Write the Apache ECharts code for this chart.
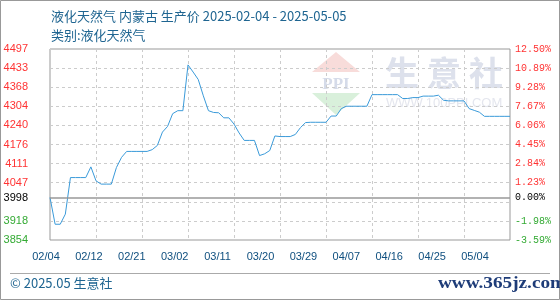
<!DOCTYPE html>
<html>
<head>
<meta charset="utf-8">
<script src="https://cdn.jsdelivr.net/npm/echarts@6/dist/echarts.min.js"></script>
<style>
  html, body { margin: 0; padding: 0; background: #fff; }
  #chart { width: 560px; height: 300px; }
</style>
</head>
<body>
<div id="chart"></div>
<script>
// 液化天然气 内蒙古 生产价（日度）
var startDate = '2025-02-04';
var prices = [
    3998, 3908, 3908, 3942, 4065, 4065, 4065, 4065, 4101, 4054,
    4043, 4043, 4043, 4099, 4133, 4153, 4153, 4153, 4153, 4153,
    4159, 4173, 4218, 4237, 4280, 4290, 4290, 4444, 4420, 4395,
    4340, 4290, 4284, 4283, 4266, 4266, 4245, 4215, 4190, 4190,
    4190, 4139, 4145, 4156, 4205, 4203, 4203, 4203, 4210, 4233,
    4250, 4251, 4251, 4251, 4251, 4272, 4272, 4297, 4305, 4305,
    4305, 4305, 4305, 4344, 4344, 4344, 4344, 4344, 4344, 4331,
    4331, 4334, 4334, 4339, 4339, 4339, 4342, 4325, 4323, 4323,
    4323, 4323, 4297, 4291, 4285, 4271, 4271, 4271, 4271, 4271,
    4271
];
var basePrice = 3998;
var xLabels = ['02/04', '02/12', '02/21', '03/02', '03/11', '03/20', '03/29', '04/07', '04/16', '04/25', '05/04'];
var leftLabels = ['3854', '3918', '3998', '4047', '4111', '4176', '4240', '4304', '4368', '4433', '4497'];
var rightLabels = ['-3.59%', '-1.98%', '0.00%', '1.23%', '2.84%', '4.45%', '6.06%', '7.67%', '9.28%', '10.89%', '12.50%'];

// 日期类目
var dates = [];
var d0 = new Date(startDate + 'T00:00:00Z');
for (var i = 0; i < prices.length; i++) {
    var d = new Date(d0.getTime() + i * 86400000);
    dates.push(('0' + (d.getUTCMonth() + 1)).slice(-2) + '/' + ('0' + d.getUTCDate()).slice(-2));
}

var yMin = 3855, yMax = 4497.5, yStep = 64.25;
// 标签位置：网格刻度 + 基准价
var tickVals = [];
for (var k = 0; k <= 10; k++) {
    if (k === 2) tickVals.push(basePrice);
    else tickVals.push(yMin + k * yStep);
}
function labelColor(v) {
    if (Math.abs(v - basePrice) < 0.5) return '#000';
    return v > basePrice ? '#ff3333' : '#33aa33';
}

var chart = echarts.init(document.getElementById('chart'));
var option = {
    animation: false,
    title: {
        text: '液化天然气 内蒙古 生产价 2025-02-04 - 2025-05-05',
        subtext: '类别:液化天然气',
        left: 46,
        top: 5,
        itemGap: 6,
        textStyle: { fontSize: 13, fontWeight: 'normal', color: '#1f6591', fontFamily: 'Noto Sans CJK SC' },
        subtextStyle: { fontSize: 13, color: '#1f6591', fontFamily: 'Noto Sans CJK SC' }
    },
    grid: [
        { left: 50, right: 50, top: 49, bottom: 60, show: true, borderColor: '#999', borderWidth: 1 },
        { left: 46, right: 85, top: 49, bottom: 60, show: false }
    ],
    xAxis: [{
        type: 'category',
        gridIndex: 0,
        data: dates,
        boundaryGap: false,
        axisLine: { show: false },
        axisTick: { show: false },
        axisLabel: { show: false },
        splitLine: {
            show: true,
            interval: function(idx) { return idx % 9 === 0; },
            lineStyle: { color: '#ccc', type: [3, 3] }
        }
    }, {
        type: 'category',
        gridIndex: 1,
        data: xLabels,
        boundaryGap: false,
        axisLine: { show: false },
        axisTick: { show: false },
        splitLine: { show: false },
        axisLabel: {
            interval: 0, margin: 11, fontSize: 11, color: '#0f4f7f',
            fontFamily: 'Liberation Sans'
        }
    }],
    yAxis: [{
        type: 'value',
        gridIndex: 0,
        min: yMin, max: yMax, interval: yStep,
        axisLine: { show: false },
        axisTick: { show: false },
        splitLine: { show: true, lineStyle: { color: '#ccc', type: [3, 3] } },
        axisLabel: {
            customValues: tickVals,
            margin: 22,
            fontSize: 11,
            fontFamily: 'Liberation Sans',
            color: labelColor,
            formatter: function(v) { return leftLabels[tickVals.indexOf(v)]; }
        }
    }, {
        type: 'value',
        gridIndex: 0,
        position: 'right',
        min: yMin, max: yMax, interval: yStep,
        axisLine: { show: false },
        axisTick: { show: false },
        splitLine: { show: false },
        axisLabel: {
            customValues: tickVals,
            margin: 5,
            fontSize: 10,
            fontFamily: 'Liberation Mono',
            color: labelColor,
            formatter: function(v) { return rightLabels[tickVals.indexOf(v)]; }
        }
    }, {
        type: 'value',
        gridIndex: 1,
        show: false
    }],
    graphic: [
        { type: 'rect', z: -10, shape: { x: 0.5, y: 0.5, width: 559, height: 299 }, style: { fill: 'none', stroke: '#999' } },
        { type: 'line', shape: { x1: 10, y1: 273.5, x2: 550, y2: 273.5 }, style: { stroke: '#aaa', lineWidth: 1 } },
        { type: 'text', left: 10, top: 277, style: { text: '© 2025.05 生意社', fill: '#1f6591', font: '13px "Noto Sans CJK SC"' } },
        { type: 'text', x: 438, y: 275, scaleX: 1.13, style: { text: 'www.365jz.com', fill: '#1e3c78', font: 'bold 17px "Liberation Serif"' } },
        // 水印
        { type: 'polygon', z: -5, shape: { points: [[336, 52], [312, 72], [360, 72]] }, style: { fill: '#f8dcda' } },
        { type: 'polygon', z: -5, shape: { points: [[312, 93], [360, 93], [336, 115]] }, style: { fill: '#d9f0db' } },
        { type: 'text', z: -5, x: 336, y: 76, style: { text: 'PPI', fill: '#d5dbe9', font: 'bold 17px "Liberation Serif"', align: 'center' } },
        { type: 'text', z: -5, x: 385, y: 56, style: { text: '生', fill: '#dde1ec', font: 'bold 34px "Noto Sans CJK SC"' } },
        { type: 'text', z: -5, x: 427, y: 56, style: { text: '意', fill: '#dde1ec', font: 'bold 34px "Noto Sans CJK SC"' } },
        { type: 'text', z: -5, x: 469, y: 56, style: { text: '社', fill: '#dde1ec', font: 'bold 34px "Noto Sans CJK SC"' } },
        { type: 'text', z: -5, x: 386, y: 97, style: { text: 'WWW.100PPI.COM', fill: '#e4e6ee', font: '13px "Liberation Sans"' } }
    ],
    series: [{
        type: 'line',
        xAxisIndex: 0,
        yAxisIndex: 0,
        data: prices,
        symbol: 'none',
        lineStyle: { color: '#3a9ad9', width: 1 },
        markLine: {
            silent: true,
            symbol: 'none',
            label: { show: false },
            lineStyle: { color: '#999', type: 'solid', width: 1.5 },
            data: [{ yAxis: basePrice }]
        }
    }]
};
chart.setOption(option);
</script>
</body>
</html>
